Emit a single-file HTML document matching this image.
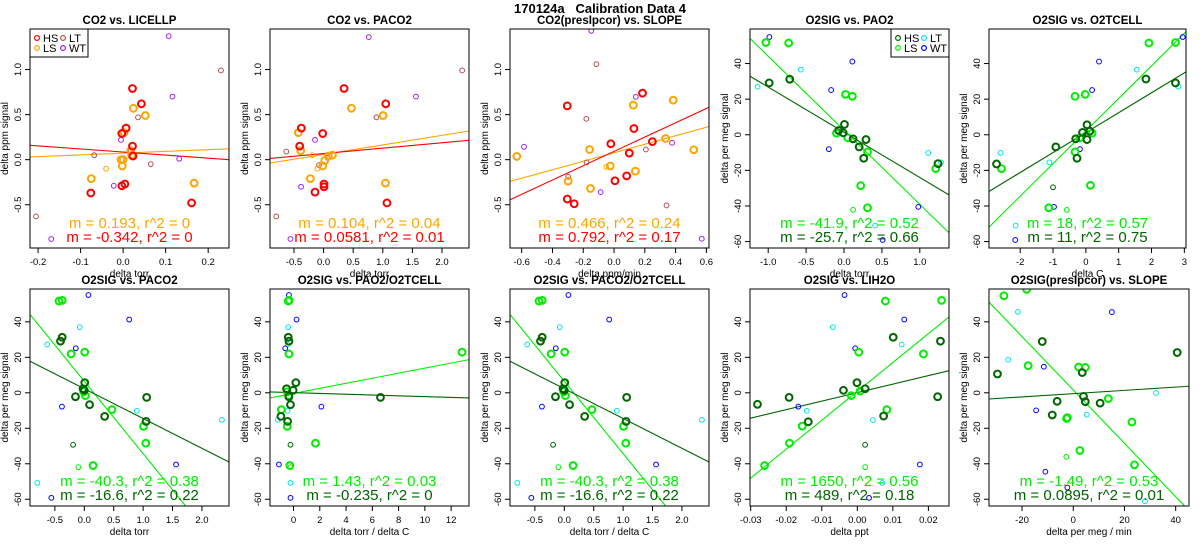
<!DOCTYPE html>
<html><head><meta charset="utf-8">
<style>
html,body{margin:0;padding:0;background:#fff;}
svg{display:block;font-family:"Liberation Sans",Arial,sans-serif;}
</style></head>
<body>
<svg id="chart" width="1200" height="550" viewBox="0 0 1200 550" xmlns="http://www.w3.org/2000/svg">
<text x="600" y="13" text-anchor="middle" font-size="13" font-weight="bold" style="white-space:pre">170124a   Calibration Data 4</text>
</svg>
<script>
// ---- Panel 1: CO2 vs LICELLP
const p1HS=[[0.022,0.79],[0.043,0.62],[0.007,0.35],[-0.003,0.29],[0.022,0.15],[0.023,0.04],[0.004,-0.27],[-0.003,-0.29],[-0.076,-0.37],[0.161,-0.48]];
const p1LS=[[0.024,0.57],[0.052,0.49],[0.002,0.30],[0.018,0.10],[0.0,0.0],[-0.005,0.0],[0.02,0.05],[-0.002,-0.07],[-0.075,-0.21],[0.167,-0.26]];
const p1LSs=[[-0.04,-0.10]];
const p1LT=[[0.23,0.99],[0.035,0.47],[-0.068,0.05],[0.065,-0.05],[-0.205,-0.63],[0.018,0.10]];
const p1WT=[[0.107,1.37],[0.116,0.70],[-0.005,0.22],[0.132,0.01],[-0.022,-0.29],[-0.169,-0.88]];
const p1Fit=[[0.193,0.073],[-0.342,0.085]];
const p1Lab=["m = 0.193, r^2 = 0","m = -0.342, r^2 = 0"];
const p1Ticks=[-0.2,-0.1,0.0,0.1,0.2];
// ---- Panel 2: CO2 vs PACO2
const p2HS=[[0.346,0.79],[1.05,0.62],[-0.376,0.35],[-0.015,0.29],[-0.404,0.15],[0.007,-0.27],[0.007,-0.30],[-0.145,-0.36],[1.07,-0.48]];
const p2LS=[[0.47,0.57],[1.006,0.49],[-0.427,0.30],[-0.387,0.10],[0.149,0.05],[0.08,0.04],[0.019,-0.01],[-0.015,-0.07],[-0.224,-0.21],[1.045,-0.26]];
const p2LSs=[[-0.19,0.05],[-0.105,-0.10]];
const p2LT=[[2.34,0.99],[0.893,0.47],[-0.63,0.09],[-0.077,-0.06],[-0.8,-0.63]];
const p2WT=[[0.763,1.36],[1.56,0.70],[-0.145,0.22],[0.07,0.02],[-0.38,-0.30],[-0.56,-0.88]];
const p2Fit=[[0.106,0.058],[0.06,0.068]];
const p2Lab=["m = 0.104, r^2 = 0.04","m = 0.0581, r^2 = 0.01"];
const p2Ticks=[-0.5,0.0,0.5,1.0,1.5,2.0];
// ---- Panel 3: CO2(presIpcor) vs SLOPE
const p3HS=[[-0.304,0.597],[0.185,0.738],[0.129,0.346],[-0.021,0.176],[0.249,0.20],[0.099,0.073],[0.082,-0.18],[0.006,-0.234],[-0.304,-0.437],[-0.259,-0.489]];
const p3LS=[[-0.632,0.036],[0.125,0.605],[0.384,0.66],[0.335,0.235],[0.518,0.11],[-0.159,0.113],[-0.025,-0.07],[0.139,-0.127],[-0.298,-0.238],[-0.153,-0.32]];
const p3LSs=[[-0.05,-0.08]];
const p3LT=[[-0.115,1.06],[-0.18,0.453],[0.207,0.113],[-0.178,-0.03],[-0.298,-0.19],[0.341,-0.508]];
const p3WT=[[-0.148,1.43],[0.141,0.697],[-0.585,0.143],[0.377,0.187],[-0.087,-0.36],[0.57,-0.877]];
const p3Fit=[[0.471,0.077],[0.794,0.092]];
const p3Lab=["m = 0.466, r^2 = 0.24","m = 0.792, r^2 = 0.17"];
const p3Ticks=[-0.6,-0.4,-0.2,0.0,0.2,0.4,0.6];
// ---- Panel 4: O2SIG vs PAO2
const p4HS=[[-0.987,29.1],[-0.716,31.2],[0.006,5.8],[-0.07,2.4],[-0.01,1.1],[0.12,-2.3],[0.29,-2.7],[0.2,-6.8],[0.26,-13.2],[1.24,-16.2]];
const p4LS=[[-1.03,51.8],[-0.73,51.5],[0.02,22.7],[0.11,21.6],[-0.1,0.9],[0.05,-1.7],[0.31,-9.6],[1.21,-19.0],[0.22,-28.6],[0.31,-41.0]];
const p4LSs=[[0.12,-42.2]];
const p4HSs=[];
const p4LT=[[-0.57,36.6],[-1.14,27.0],[1.11,-10.2],[1.28,-15.5],[0.41,-51.0]];
const p4WT=[[-0.985,54.9],[0.11,41.1],[-0.17,25.1],[-0.2,-8.1],[0.98,-40.5],[0.51,-59.1]];
const p4Fit=[[-41.6,2.5],[-25.4,1.4]];
const p4Lab=["m = -41.9, r^2 = 0.52","m = -25.7, r^2 = 0.66"];
const p4Ticks=[-1.0,-0.5,0.0,0.5,1.0];
// ---- Panel 5: O2SIG vs O2TCELL
const p5HS=[[-2.72,-16.4],[-0.915,-6.8],[-0.31,-2.3],[-0.1,1.3],[0.035,5.6],[0.12,2.0],[0.035,-2.7],[-0.27,-13.2],[1.83,31.3],[2.73,29.1]];
const p5LS=[[-2.57,-19.0],[-0.33,21.6],[-0.018,22.7],[1.92,51.5],[2.73,51.8],[-0.18,-1.7],[0.19,0.9],[-0.33,-9.6],[0.14,-28.4],[-1.13,-41.0]];
const p5LSs=[[-0.58,-42.2]];
const p5HSs=[[-1.0,-29.5]];
const p5LT=[[-2.6,-10.2],[-1.11,-15.5],[1.55,36.6],[2.82,27.0],[-2.14,-51.0]];
const p5WT=[[0.4,41.1],[0.19,25.1],[-0.18,-8.1],[-0.97,-40.5],[-2.15,-59.1],[2.95,54.9]];
const p5Fit=[[18.3,2.1],[11.2,1.2]];
const p5Lab=["m = 18, r^2 = 0.57","m = 11, r^2 = 0.75"];
const p5Ticks=[-2,-1,0,1,2,3];
// ---- Panel 6/8: O2SIG vs PACO2
const p6HS=[[-0.404,29.1],[-0.376,31.3],[0.008,5.7],[-0.02,2.3],[0.0,1.4],[-0.15,-2.2],[1.06,-2.6],[0.09,-6.7],[0.346,-13.3],[1.05,-16.1]];
const p6LS=[[-0.43,51.7],[-0.376,52.1],[-0.224,21.9],[0.007,22.9],[0.019,-1.6],[-0.01,0.6],[0.47,-9.5],[1.006,-18.9],[1.045,-28.4],[0.149,-41.0]];
const p6LSs=[[-0.1,-41.9]];
const p6HSs=[[-0.19,-29.3]];
const p6LT=[[-0.63,27.2],[-0.077,37.0],[0.893,-10.1],[2.34,-15.2],[-0.8,-50.8]];
const p6WT=[[0.07,55.1],[0.763,41.3],[-0.145,25.1],[-0.38,-7.8],[1.56,-40.4],[-0.56,-59.2]];
const p6Fit=[[-40.8,6.5],[-16.8,2.3]];
const p6Lab=["m = -40.3, r^2 = 0.38","m = -16.6, r^2 = 0.22"];
const p6Ticks=[-0.5,0.0,0.5,1.0,1.5,2.0];
// ---- Panel 7: O2SIG vs PAO2/O2TCELL
const p7HS=[[-0.4,31.3],[-0.35,29.1],[0.18,5.7],[-0.53,2.3],[-0.03,1.4],[-0.35,-2.2],[6.62,-2.6],[-0.23,-6.7],[-0.96,-13.3],[-0.45,-16.1]];
const p7LS=[[-0.4,51.7],[-0.33,52.1],[-0.35,21.9],[12.83,22.9],[-0.38,-1.6],[-0.48,0.6],[-0.93,-9.5],[-0.48,-18.9],[1.67,-28.4],[-0.28,-41.0]];
const p7LSs=[[-0.23,-41.9]];
const p7HSs=[[-0.23,-29.3]];
const p7LT=[[-0.43,27.2],[-0.4,37.0],[-0.45,-10.1],[-1.19,-15.2],[-0.23,-50.8]];
const p7WT=[[-0.35,55.1],[0.23,41.3],[-0.63,25.1],[2.12,-7.8],[-1.11,-40.4],[-0.23,-59.2]];
const p7Fit=[[1.426,-0.35],[-0.22,0.07]];
const p7Lab=["m = 1.43, r^2 = 0.03","m = -0.235, r^2 = 0"];
const p7Ticks=[0,2,4,6,8,10,12];
// ---- Panel 9: O2SIG vs LIH2O
const p9HS=[[-0.0281,-6.5],[-0.0192,-2.6],[-0.0138,-16.3],[-0.0039,1.4],[-0.0001,5.7],[0.0022,2.3],[0.0074,-13.1],[0.0101,31.3],[0.0234,29.1],[0.0226,-2.2]];
const p9LS=[[-0.0261,-41.0],[-0.0191,-28.4],[-0.0155,-18.8],[-0.0017,-1.6],[0.0008,1.0],[0.0004,22.9],[0.0079,51.7],[0.0237,52.1],[0.0186,21.9],[0.0083,-9.5]];
const p9LSs=[[0.0022,-41.9]];
const p9HSs=[[0.0022,-29.3]];
const p9LT=[[-0.0069,37.0],[-0.0142,-10.1],[0.0044,-15.4],[0.0125,27.2],[0.007,-50.8]];
const p9WT=[[-0.0036,55.1],[-0.0006,25.1],[-0.0166,-7.8],[0.0132,41.3],[0.0176,-40.4],[0.0033,-59.2]];
const p9Fit=[[1627,0.8],[480,0.1]];
const p9Lab=["m = 1650, r^2 = 0.56","m = 489, r^2 = 0.18"];
const p9Ticks=[-0.03,-0.02,-0.01,0.00,0.01,0.02];
// ---- Panel 10: O2SIG(presIpcor) vs SLOPE
const p10HS=[[-29.6,10.6],[-12.1,28.9],[-6.3,-4.8],[-8.2,-12.5],[3.5,11.4],[4.0,-2.0],[4.7,-5.0],[10.5,-5.8],[40.6,22.7]];
const p10LS=[[-27.1,54.7],[-18.2,58.3],[-17.6,15.3],[2.1,14.5],[4.7,14.3],[-2.3,-14.0],[-2.6,-14.5],[13.7,-3.3],[22.9,-16.5],[2.6,-32.5],[23.9,-40.6]];
const p10LSs=[[-2.7,-36.1]];
const p10HSs=[];
const p10LT=[[-21.6,45.6],[-25.4,18.7],[5.3,-12.3],[32.3,-0.1],[28.0,-61.1]];
const p10WT=[[15.1,45.5],[-11.5,14.7],[-14.5,-9.9],[-10.9,-44.5],[-2.3,-53.4]];
const p10Fit=[[-1.504,1.6],[0.092,-0.47]];
const p10Lab=["m = -1.49, r^2 = 0.53","m = 0.0895, r^2 = 0.01"];
const p10Ticks=[-20,0,20,40];
// y ticks
const co2YTicks=[-0.5,0.0,0.5,1.0];
const o2YTicks=[-60,-40,-20,0,20,40];

const NS="http://www.w3.org/2000/svg";
const svg=document.getElementById('chart');
function mk(tag,attrs,parent){const e=document.createElementNS(NS,tag);for(const k in attrs)e.setAttribute(k,attrs[k]);(parent||svg).appendChild(e);return e;}
const C_CO2={HS:"#ff0000",LS:"#ffa500",LT:"#b05050",WT:"#a020f0"};
const C_O2={HS:"#006400",LS:"#00ee00",LT:"#00e5ee",WT:"#0000ff"};

function fmt(v,t){ if(t && t.dec!==undefined) return v.toFixed(t.dec); return String(v);}

function panel(o){
  const g=mk('g',{});
  
  
  const L=o.box[0],R=o.box[1],T=o.box[2],B=o.box[3];
  const sx=v=>L+(v-o.xr[0])/(o.xr[1]-o.xr[0])*(R-L);
  const sy=v=>B-(v-o.yr[0])/(o.yr[1]-o.yr[0])*(B-T);
  const cid='clip-'+o.name;
  const cp=mk('clipPath',{id:cid},g);mk('rect',{x:L,y:T,width:R-L,height:B-T},cp);
  const col=o.col;
  const tt=mk('text',{x:(L+R)/2,y:T-5,'text-anchor':'middle','font-size':11.5,'font-weight':'bold'},g);tt.textContent=o.title;
  
  const lg=mk('g',{'clip-path':'url(#'+cid+')'},g);
  const lc=[col.LS,col.HS];
  o.fit.forEach((f,i)=>{
    const x0=o.xr[0],x1=o.xr[1];
    const ln=mk('line',{x1:sx(x0),y1:sy(f[0]*x0+f[1]),x2:sx(x1),y2:sy(f[0]*x1+f[1]),stroke:lc[i],'stroke-width':1.1},lg);
    
  });
  const sets=[['LT',o.LT,2.4,1],['WT',o.WT,2.4,1],['LS',o.LSs||[],2.4,1],['HS',o.HSs||[],2.4,1],['LS',o.LS,3.4,2],['HS',o.HS,3.4,2]];
  sets.forEach(s=>{s[1].forEach(p=>{
    const c=mk('circle',{cx:sx(p[0]),cy:sy(p[1]),r:s[2],fill:'none',stroke:col[s[0]],'stroke-width':s[3]},lg);
    
  });});
  const bx=mk('rect',{x:L,y:T,width:R-L,height:B-T,fill:'none',stroke:'#000','stroke-width':1},g);
  
  o.xt.forEach(v=>{const x=sx(v);
    mk('line',{x1:x,y1:B,x2:x,y2:B+5,stroke:'#000'},g);
    const t=mk('text',{x:x,y:B+17,'text-anchor':'middle','font-size':9.5},g);t.textContent=fmt(v,o.xtf);
    
  });
  o.yt.forEach(v=>{const y=sy(v);
    mk('line',{x1:L,y1:y,x2:L-5,y2:y,stroke:'#000'},g);
    const t=mk('text',{x:L-9,y:y,'text-anchor':'middle','font-size':9.5,transform:'rotate(-90 '+(L-9)+' '+y+')'},g);t.textContent=fmt(v,o.ytf);
    
  });
  const xl=mk('text',{x:(L+R)/2,y:B+29,'text-anchor':'middle','font-size':10},g);xl.textContent=o.xlab;
  
  const yx=L-22,yy=(T+B)/2;
  const yl=mk('text',{x:yx,y:yy,'text-anchor':'middle','font-size':10,transform:'rotate(-90 '+yx+' '+yy+')'},g);yl.textContent=o.ylab;
  
  const a1=mk('text',{x:(L+R)/2,y:B-20,'text-anchor':'middle','font-size':15,fill:col.LS},g);a1.textContent=o.lab[0];
  
  const a2=mk('text',{x:(L+R)/2,y:B-6,'text-anchor':'middle','font-size':15,fill:col.HS},g);a2.textContent=o.lab[1];
  
  if(o.legend){
    const lx=o.legend==='left'?L:R-58, ly=T;
    const lgd=mk('g',{},g);
    
    mk('rect',{x:lx,y:ly,width:58,height:28,fill:'#fff',stroke:'#000','stroke-width':1},lgd);
    [['HS',0,0],['LT',1,0],['LS',0,1],['WT',1,1]].forEach(e=>{
      const ex=lx+7+e[1]*26, ey=ly+9+e[2]*10;
      mk('circle',{cx:ex,cy:ey,r:2.4,fill:'none',stroke:col[e[0]],'stroke-width':1.2},lgd);
      const t=mk('text',{x:ex+6,y:ey+4,'font-size':11},lgd);t.textContent=e[0];
      
    });
  }
}
const TOP=[29,248], BOT=[289,506];
const co2Y=[-0.98,1.45], o2Y=[-63.6,59.4], o2Yb=[-63.8,58.5];
panel({name:'panel-co2-licellp',title:'CO2 vs. LICELLP',box:[30,229,...TOP],xr:[-0.219,0.249],yr:co2Y,HS:p1HS,LS:p1LS,LSs:p1LSs,LT:p1LT,WT:p1WT,fit:p1Fit,lab:p1Lab,xt:p1Ticks,xtf:{dec:1},yt:co2YTicks,ytf:{dec:1},xlab:'delta torr',ylab:'delta ppm signal',col:C_CO2,legend:'left'});
panel({name:'panel-co2-paco2',title:'CO2 vs. PACO2',box:[270,469,...TOP],xr:[-0.905,2.456],yr:co2Y,HS:p2HS,LS:p2LS,LSs:p2LSs,LT:p2LT,WT:p2WT,fit:p2Fit,lab:p2Lab,xt:p2Ticks,xtf:{dec:1},yt:co2YTicks,ytf:{dec:1},xlab:'delta torr',ylab:'delta ppm signal',col:C_CO2});
panel({name:'panel-co2-slope',title:'CO2(presIpcor) vs. SLOPE',box:[510,709,...TOP],xr:[-0.676,0.617],yr:co2Y,HS:p3HS,LS:p3LS,LSs:p3LSs,LT:p3LT,WT:p3WT,fit:p3Fit,lab:p3Lab,xt:p3Ticks,xtf:{dec:1},yt:co2YTicks,ytf:{dec:1},xlab:'delta ppm/min',ylab:'delta ppm signal',col:C_CO2});
panel({name:'panel-o2-pao2',title:'O2SIG vs. PAO2',box:[750,949,...TOP],xr:[-1.24,1.385],yr:o2Y,HS:p4HS,LS:p4LS,LSs:p4LSs,HSs:p4HSs,LT:p4LT,WT:p4WT,fit:p4Fit,lab:p4Lab,xt:p4Ticks,xtf:{dec:1},yt:o2YTicks,xlab:'delta torr',ylab:'delta per meg signal',col:C_O2,legend:'right'});
panel({name:'panel-o2-o2tcell',title:'O2SIG vs. O2TCELL',box:[989,1186,...TOP],xr:[-2.95,3.05],yr:o2Y,HS:p5HS,LS:p5LS,LSs:p5LSs,HSs:p5HSs,LT:p5LT,WT:p5WT,fit:p5Fit,lab:p5Lab,xt:p5Ticks,yt:o2YTicks,xlab:'delta C',ylab:'delta per meg signal',col:C_O2});
panel({name:'panel-o2-paco2',title:'O2SIG vs. PACO2',box:[30,229,...BOT],xr:[-0.923,2.46],yr:o2Yb,HS:p6HS,LS:p6LS,LSs:p6LSs,HSs:p6HSs,LT:p6LT,WT:p6WT,fit:p6Fit,lab:p6Lab,xt:p6Ticks,xtf:{dec:1},yt:o2YTicks,xlab:'delta torr',ylab:'delta per meg signal',col:C_O2});
panel({name:'panel-o2-pao2-o2tcell',title:'O2SIG vs. PAO2/O2TCELL',box:[270,469,...BOT],xr:[-1.79,13.36],yr:o2Yb,HS:p7HS,LS:p7LS,LSs:p7LSs,HSs:p7HSs,LT:p7LT,WT:p7WT,fit:p7Fit,lab:p7Lab,xt:p7Ticks,yt:o2YTicks,xlab:'delta torr / delta C',ylab:'delta per meg signal',col:C_O2});
panel({name:'panel-o2-paco2-o2tcell',title:'O2SIG vs. PACO2/O2TCELL',box:[510,709,...BOT],xr:[-0.923,2.46],yr:o2Yb,HS:p6HS,LS:p6LS,LSs:p6LSs,HSs:p6HSs,LT:p6LT,WT:p6WT,fit:p6Fit,lab:p6Lab,xt:p6Ticks,xtf:{dec:1},yt:o2YTicks,xlab:'delta torr / delta C',ylab:'delta per meg signal',col:C_O2});
panel({name:'panel-o2-lih2o',title:'O2SIG vs. LIH2O',box:[750,949,...BOT],xr:[-0.0302,0.0258],yr:o2Yb,HS:p9HS,LS:p9LS,LSs:p9LSs,HSs:p9HSs,LT:p9LT,WT:p9WT,fit:p9Fit,lab:p9Lab,xt:p9Ticks,xtf:{dec:2},yt:o2YTicks,xlab:'delta ppt',ylab:'delta per meg signal',col:C_O2});
panel({name:'panel-o2-slope',title:'O2SIG(presIpcor) vs. SLOPE',box:[989,1189,...BOT],xr:[-32.9,45.2],yr:o2Yb,HS:p10HS,LS:p10LS,LSs:p10LSs,HSs:p10HSs,LT:p10LT,WT:p10WT,fit:p10Fit,lab:p10Lab,xt:p10Ticks,yt:o2YTicks,xlab:'delta per meg / min',ylab:'delta per meg signal',col:C_O2});
</script>
</body></html>
